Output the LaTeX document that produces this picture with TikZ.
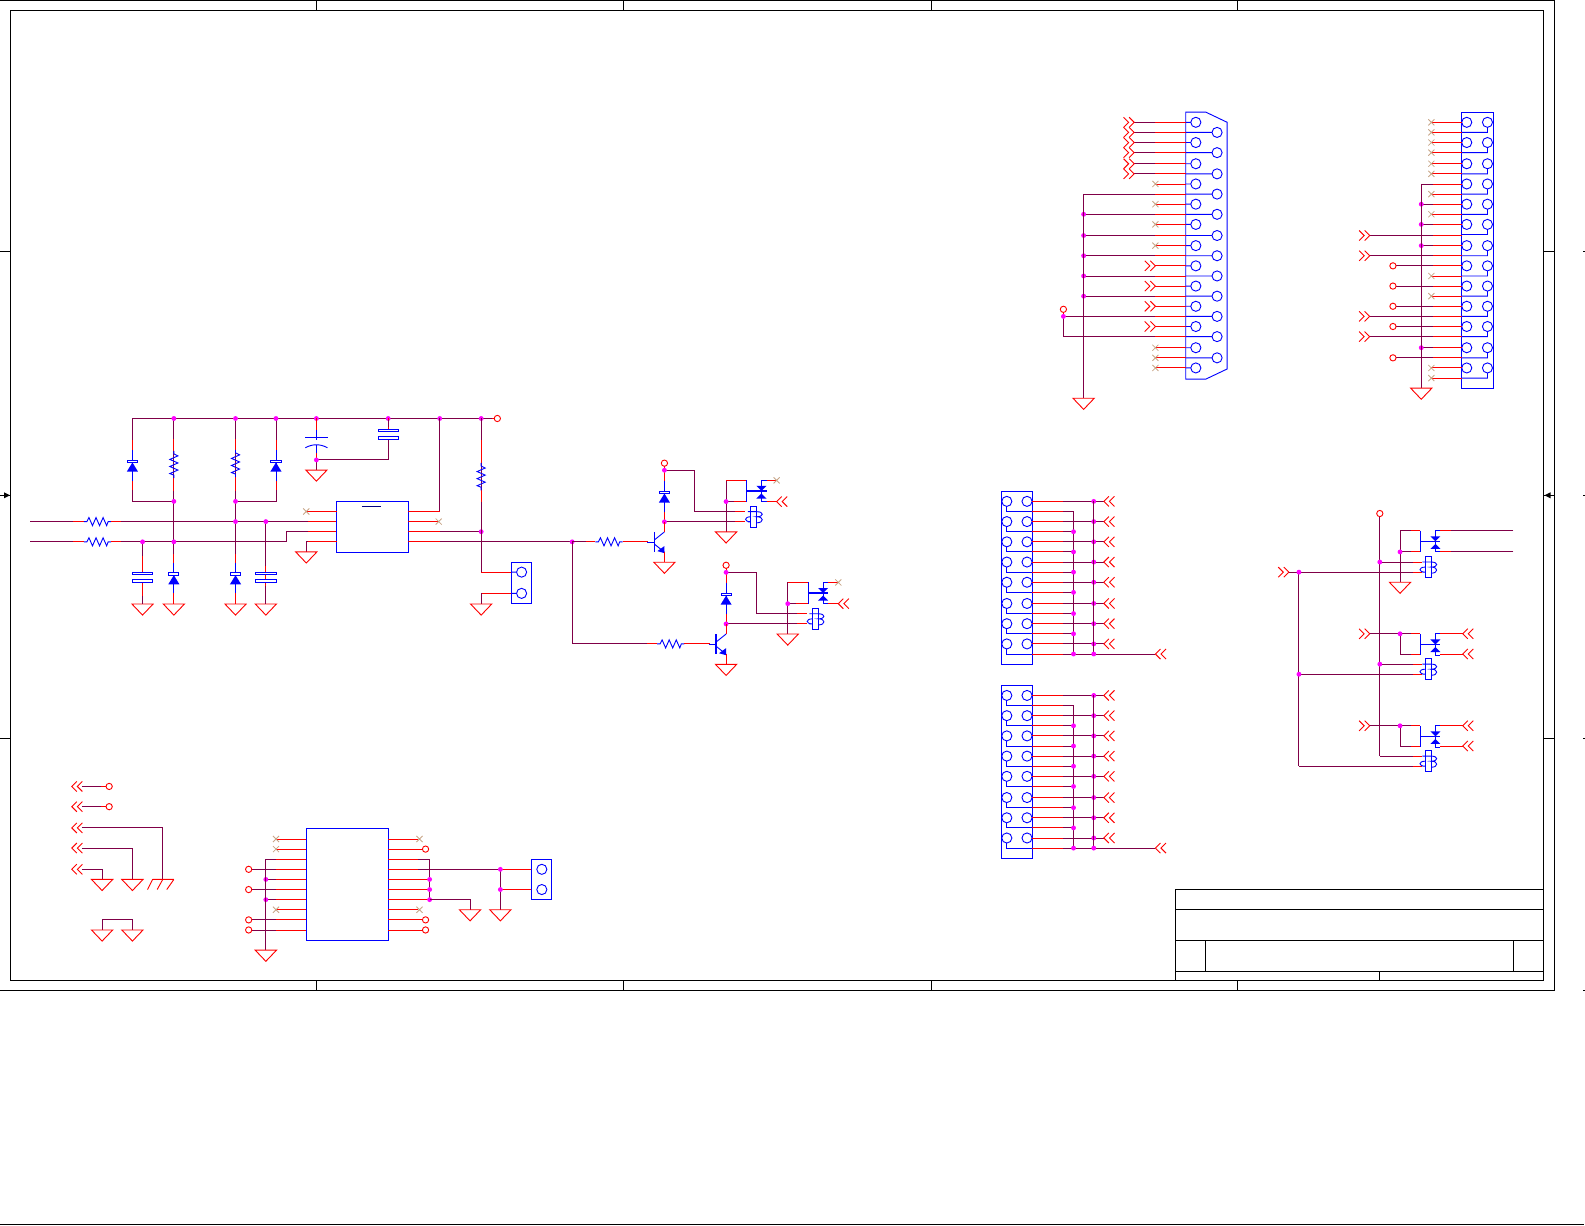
\documentclass[tikz,border=0pt]{standalone}
\usepackage{tikz}
\definecolor{wirec}{RGB}{128,0,72}
\definecolor{ncc}{RGB}{200,165,135}
\definecolor{bodyb}{RGB}{0,0,255}
\definecolor{jnc}{RGB}{255,0,255}
\tikzset{
 wirel/.style={draw=wirec,line width=0.9pt,line join=miter},
 redl/.style={draw=red,line width=0.9pt,line join=miter},
 bluel/.style={draw=bodyb,line width=0.9pt,line join=miter},
 blackl/.style={draw=black,line width=0.9pt},
 ncl/.style={draw=ncc,line width=0.8pt}
}
\newcommand\Jn[2]{\fill[jnc] (#1,#2) circle (2.4pt);}
\newcommand\Gnd[2]{\draw[redl] ({#1-10.5},#2)--({#1+10.5},#2)--(#1,{#2+11})--cycle;}
\newcommand\PortR[2]{\draw[redl] ({#1-5},{#2-5})--(#1,#2)--({#1-5},{#2+5}) ({#1-10.5},{#2-5})--({#1-5.5},#2)--({#1-10.5},{#2+5});}
\newcommand\PortL[2]{\draw[redl] ({#1+5},{#2-5})--(#1,#2)--({#1+5},{#2+5}) ({#1+10.5},{#2-5})--({#1+5.5},#2)--({#1+10.5},{#2+5});}
\newcommand\Pc[2]{\draw[redl] (#1,#2) circle (3.1pt);}
\newcommand\Nc[2]{\draw[ncl] ({#1-3},{#2-3})--({#1+3},{#2+3}) ({#1-3},{#2+3})--({#1+3},{#2-3});}
% purple from x1 to xm, red from xm to x2, at y
\newcommand\Hp[4]{\draw[wirel] (#1,#4)--(#2,#4); \draw[redl] (#2,#4)--(#3,#4);}
\newcommand\Hr[3]{\draw[redl] (#1,#3)--(#2,#3);}
\newcommand\Zig{(0,0)--(3,0)--(5,-4)--(8.5,4)--(12,-4)--(15.5,4)--(19,-4)--(22.5,4)--(24,0)--(27,0)}
\newcommand\ResH[2]{\begin{scope}[shift={(#1,#2)}]\draw[bluel] \Zig;\end{scope}}
\newcommand\ResV[2]{\begin{scope}[shift={(#1,#2)},rotate=-90]\draw[bluel] \Zig;\end{scope}}
% diode: x, bar y
\newcommand\Dio[2]{\draw[bluel] (#1,{#2-11})--(#1,{#2+19});
 \draw[bluel,fill=white] ({#1-5},{#2-1.3}) rectangle ({#1+5},{#2+1.3});
 \fill[bodyb] ({#1-5.5},{#2+10})--({#1+5.5},{#2+10})--(#1,{#2+1})--cycle;}
\newcommand\Cap[2]{\draw[bluel,fill=white] ({#1-10},{#2-5}) rectangle ({#1+10},{#2-2.3});
 \draw[bluel,fill=white] ({#1-10},{#2+5}) rectangle ({#1+10},{#2+2.3});}
\newcommand\Npn[2]{\draw[bluel] ({#1-17},#2)--({#1-10},#2);
 \draw[bluel,line width=1.4pt] ({#1-10},{#2-10})--({#1-10},{#2+10});
 \draw[bluel] ({#1-10},{#2-2})--(#1,{#2-10}) ({#1-10},{#2+2})--(#1,{#2+10});
 \fill[bodyb] (#1,{#2+11})--(#1,{#2+4})--({#1-7},{#2+9})--cycle;}
\newcommand\Coil[2]{\draw[bluel] ({#1-3},{#2-10.5}) rectangle ({#1+3},{#2+10.5});
 \draw[bluel] ({#1-6},{#2-5})--({#1+3},{#2-5}) .. controls ({#1+10},{#2-5}) and ({#1+10},#2) .. ({#1+3},#2)
  .. controls ({#1+10},#2) and ({#1+10},{#2+6}) .. ({#1+3},{#2+6});
 \draw[bluel] ({#1-3},#2) .. controls ({#1-10},#2) and ({#1-10},{#2+5}) .. ({#1-3},{#2+5})--({#1-6},{#2+5});}
% switch: x of bar, top y (pitch 21)
\newcommand\Sw[2]{\draw[bluel] (#1,#2)--(#1,{#2+21});
 \draw[bluel,line width=1.4pt] (#1,{#2+10.5})--({#1+20},{#2+10.5});
 \draw[bluel] ({#1+20},#2)--({#1+15},#2)--({#1+15},{#2+21})--({#1+20},{#2+21});
 \fill[bodyb] ({#1+10},{#2+5.5})--({#1+20},{#2+5.5})--({#1+15},{#2+10.5})--cycle;
 \fill[bodyb] ({#1+10},{#2+18})--({#1+20},{#2+18})--({#1+15},{#2+13})--cycle;}
\newcommand\RelayBlock[2]{\begin{scope}[shift={(#1,#2)}]
 \Pc{658}{458}\draw[redl] (658,461)--(658,465);
 \draw[wirel] (658,465)--(688,465)--(688,506)--(728,506); \Hr{728}{738}{506}
 \draw[redl] (658,465)--(658,477) (658,505)--(658,526);
 \Dio{658}{487}
 \Hp{658}{728}{738}{516}
 \Jn{658}{465}\Jn{658}{516}
 \Coil{746.5}{511}
 \draw[wirel] (719,526)--(719,475)--(725,475); \Hr{719}{739}{475}
 \Hp{719}{727}{739}{496}
 \Jn{719}{496}
 \Sw{739}{475}
 \Hr{759}{769}{475}\Nc{769}{475}
 \Hr{759}{769}{496}\PortL{769}{496}
 \Gnd{719}{526}
 \Npn{658}{536}
 \draw[redl] (658,526)--(658,516) (658,546)--(658,556);
 \Gnd{658}{556}
 \end{scope}}
\newcommand\Conn[1]{\begin{scope}[shift={(0,#1)}]
 \draw[bluel] (991,486) rectangle (1021,657);
 \foreach \y in {496,516,536,556,576,597,617,637}{
  \draw[bluel] (996,\y) circle (5pt) (1016,\y) circle (5pt);
  \draw[bluel] (996,\y+5)--(996,\y+10)--(1021,\y+10);
  \Hp{1082}{1052}{1021}{\y}\draw[wirel] (1052,\y)--(1092,\y);
  \Jn{1082}{\y}\PortL{1092}{\y}
 }
 \foreach \y in {506,526,546,566,586,607,627,647}{\Hp{1062}{1052}{1021}{\y}}
 \draw[wirel] (1062,506)--(1062,647) (1082,496)--(1082,647) (1052,647)--(1143,647);
 \foreach \y in {526,546,566,586,607,627,647}{\Jn{1062}{\y}}
 \Jn{1082}{647}\PortL{1143}{647}
 \end{scope}}
\begin{document}
\begin{tikzpicture}[x=1pt,y=-1pt]
\useasboundingbox (0,0) rectangle (1568,1212);
%% sheet frame
\draw[blackl] (0,0.7)--(1538,0.7)--(1538,980)--(0,980);
\draw[blackl] (10,10) rectangle (1527,970);
\draw[blackl] (0,1211)--(1567,1211);
\foreach \x in {313,617,921,1224}{\draw[blackl] (\x,0)--(\x,10) (\x,970)--(\x,980);}
\foreach \y in {249,731}{\draw[blackl] (0,\y)--(10,\y) (1527,\y)--(1538,\y);}
\draw[blackl] (0,490)--(10,490) (1527,490)--(1538,490);
\fill[black] (10,490)--(4,487)--(4,493)--cycle;
\fill[black] (1528,490)--(1534,487)--(1534,493)--cycle;
\foreach \y in {249,490,731,980}{\fill[black] (1566,\y-0.5) rectangle (1568,\y+0.5);}
%% title block
\draw[blackl] (1163,970)--(1163,880)--(1527,880) (1163,900)--(1527,900) (1163,930)--(1527,930) (1163,961)--(1527,961);
\draw[blackl] (1193,930)--(1193,961) (1497,930)--(1497,961) (1365,961)--(1365,970);
%% input stage
\Hp{30}{72}{83}{516}\ResH{83}{516}\draw[wirel] (110,516)--(305,516);\draw[redl] (110,516)--(120,516) (305,516)--(333,516);
\Hp{30}{72}{83}{536}\ResH{83}{536}\draw[wirel] (110,536)--(283,536)--(283,526)--(305,526);\draw[redl] (110,536)--(120,536) (305,526)--(333,526);
\draw[wirel] (131,414)--(487,414);\draw[redl] (487,414)--(489,414);\Pc{492}{414}
% left diode
\draw[wirel] (131,414)--(131,496)--(172,496);\draw[redl] (131,435)--(131,446) (131,474)--(131,485);\Dio{131}{456.5}
% R
\draw[wirel] (172,414)--(172,536);\draw[redl] (172,434)--(172,446) (172,473)--(172,486);\ResV{172}{446}
\draw[redl] (172,536)--(172,558) (172,578)--(172,597.5);\Dio{172}{568}\Gnd{172}{597.5}
\draw[wirel] (172,536)--(172,548);
% R2
\draw[wirel] (233,414)--(233,536);\draw[redl] (233,434)--(233,445) (233,472)--(233,486);\ResV{233}{445}
\draw[redl] (233,536)--(233,558) (233,578)--(233,597.5);\draw[wirel] (233,530)--(233,548);\Dio{233}{568}\Gnd{233}{597.5}
% right diode
\draw[wirel] (273,414)--(273,496)--(233,496);\draw[redl] (273,435)--(273,446) (273,474)--(273,485);\Dio{273}{456.5}
% caps
\draw[redl] (263,545)--(263,597.5);\Cap{263}{571}\Gnd{263}{597.5}
\draw[redl] (141,550)--(141,566) (141,576)--(141,590);\Cap{141}{571}\Gnd{141}{597.5}
\draw[wirel] (263,516)--(263,560) (263,580)--(263,597.5);
\draw[wirel] (141,536)--(141,550) (141,590)--(141,597.5);
\foreach \a/\b in {172/414,233/414,273/414,313/414,384/414,435/414,476/414,172/496,233/496,233/516,263/516,141/536,172/536}{\Jn{\a}{\b}}
% input caps to rail
\draw[redl] (313,414)--(313,425) (313,447)--(313,455);\draw[bluel] (313,425)--(313,435) (302,433)--(324,433);
\draw[bluel] (302,443) .. controls (309,439) and (317,439) .. (324,443);\draw[bluel] (313,440)--(313,448);
\draw[wirel] (313,455)--(313,465) (313,455)--(384,455)--(384,433);\Jn{313}{455}\Gnd{313}{465}
\draw[redl] (384,414)--(384,424);\Cap{384}{429.5}\draw[wirel] (384,415)--(384,422);
%% IC 1
\draw[bluel] (333,496) rectangle (404,546.5);
\draw[draw=blue!50!black,line width=0.9pt] (358,501.5)--(377,501.5);
\Hr{333}{303}{506}\Nc{303}{506}
\draw[wirel] (303,546)--(303,536)--(312,536);\Hr{305}{333}{536}\Gnd{303}{546}
\draw[wirel] (435,506)--(435,414);\draw[redl] (404,506)--(435,506);
\Hr{404}{434}{516}\Nc{434}{516}
\Hp{476}{435}{404}{526}\Jn{476}{526}
\Hp{566}{435}{404}{536}
% R3 + jumper
\draw[wirel] (476,414)--(476,566);\draw[redl] (476,435)--(476,458) (476,485)--(476,497);\draw[wirel] (476,414)--(476,435);\ResV{476}{458}
\Hr{476}{506}{566}\draw[redl] (506,587)--(476,587);\draw[wirel] (476,587)--(476,597.5);\Gnd{476}{597.5}
\draw[bluel] (506,556) rectangle (526,597);\draw[bluel] (516,566) circle (5pt) (516,587) circle (5pt) (506,566)--(511,566) (506,587)--(511,587);
%% drivers
\Jn{566}{536}
\draw[wirel] (566,536)--(589,536);\Hr{580}{589}{536}
\ResH{589}{536}\Hr{616}{641}{536}
\RelayBlock{-0.7}{0.2}
\draw[wirel] (566,536)--(566,637)--(641,637);\Hr{640}{650}{637}\ResH{650}{637}\Hr{677}{702}{637}
\RelayBlock{60.3}{101.2}
%% DB25
\draw[bluel] (1173,111)--(1193,111)--(1214,121)--(1214,365)--(1193,375)--(1173,375)--cycle;
\foreach \y in {121,141,162,182,202,222,243,263,283,303,323,344,364}{\draw[bluel] (1183,\y) circle (5pt) (1173,\y)--(1178,\y);}
\foreach \y in {131,151,172,192,212,233,253,273,293,313,333,354}{\draw[bluel] (1204,\y) circle (5pt) (1173,\y)--(1199,\y);}
\foreach \y in {121,131,141,151,162,172}{\Hp{1122}{1143}{1173}{\y}\PortR{1122}{\y}}
\foreach \y in {182,202,222,243,344,354,364}{\Hr{1143}{1173}{\y}\Nc{1143}{\y}}
\foreach \y in {192,212,233,253,273,293}{\Hp{1072}{1143}{1173}{\y}}
\foreach \y in {212,233,253,273,293}{\Jn{1072}{\y}}
\foreach \y in {263,283,303,323}{\Hr{1143}{1173}{\y}\PortR{1143}{\y}}
\draw[wirel] (1072,192)--(1072,394);\Gnd{1072}{394}
\Pc{1052}{306}\draw[redl] (1052,309)--(1052,313);
\draw[wirel] (1052,313)--(1143,313) (1052,313)--(1052,333)--(1143,333);\Hr{1143}{1173}{313}\Hr{1143}{1173}{333}\Jn{1052}{313}
%% double header top right
\draw[bluel] (1446,111) rectangle (1477,384);
\foreach \y in {121,141,162,182,202,222,243,263,283,303,323,344,364}{
 \draw[bluel] (1451,\y) circle (5pt) (1471.5,\y) circle (5pt) (1471.5,\y+5)--(1471.5,\y+10)--(1446,\y+10);}
\foreach \y in {121,131,141,151,162,172,192,212,273,293,364,374}{\Hr{1416}{1446}{\y}\Nc{1416}{\y}}
\foreach \y in {182,202,222,243,344}{\Hp{1406}{1418}{1446}{\y}}
\foreach \y in {202,222,243,344}{\Jn{1406}{\y}}
\foreach \y in {233,253,313,333}{\Hp{1355}{1418}{1446}{\y}\PortR{1355}{\y}}
\foreach \y in {263,283,303,323,354}{\Hp{1381}{1418}{1446}{\y}\Pc{1378}{\y}}
\draw[wirel] (1406,182)--(1406,384);\Gnd{1406}{384}
%% headers
\Conn{0}
\Conn{192}
%% relays right
\Pc{1365}{508}\draw[wirel] (1365,511)--(1365,748);
\foreach \y in {556,657,748}{\Hp{1365}{1398}{1407}{\y}}
\foreach \y in {566,667,758}{\Hp{1285}{1398}{1407}{\y}}
\draw[wirel] (1285,566)--(1285,758);\PortR{1275}{566}\draw[wirel] (1275,566)--(1285,566);
\foreach \a/\b in {1365/556,1285/566,1365/657,1285/667}{\Jn{\a}{\b}}
\foreach \y in {561,662,753}{\Coil{1413}{\y}}
% contact 1
\draw[wirel] (1385,576)--(1385,525)--(1396,525);\Hr{1396}{1405}{525}\Hp{1385}{1396}{1405}{546}\Jn{1385}{546}\Gnd{1385}{576}
\Sw{1405}{525}
\Hp{1497}{1435}{1425}{525}\Hp{1497}{1435}{1425}{546}
% contact 2, 3
\foreach \t/\b in {627/647,718/738}{
 \PortR{1355}{\t}
 \draw[wirel] (1355,\t)--(1396,\t);\Hr{1396}{1405}{\t}
 \draw[wirel] (1385,\t)--(1385,\b)--(1396,\b);\Hr{1396}{1405}{\b}
 \Jn{1385}{\t}
 \Sw{1405}{\t}
 \Hr{1425}{1447}{\t}\Hr{1425}{1447}{\b}
 \PortL{1447}{\t}\PortL{1447}{\b}
}
%% bottom left
\foreach \y in {778,798}{\PortL{71}{\y}\Hp{81}{100}{105}{\y}\Pc{108}{\y}}
\PortL{71}{819}\PortL{71}{839}\PortL{71}{860}
\draw[wirel] (81,819)--(161,819)--(161,870);
\draw[wirel] (81,839)--(131,839)--(131,870);\Gnd{131}{870}
\draw[wirel] (81,860)--(101,860)--(101,870);\Gnd{101}{870}
\draw[redl] (151,870)--(172,870) (151,870)--(146,880) (161,870)--(155.5,880) (172,870)--(165,880);
\draw[wirel] (101,920)--(101,910)--(131,910)--(131,920);\Gnd{101}{920}\Gnd{131}{920}
%% IC 2
\draw[bluel] (303,820) rectangle (384,930);
\foreach \y in {830,840,900}{\Hr{273}{303}{\y}\Nc{273}{\y}}
\foreach \y in {850,870,890}{\Hp{263}{273}{303}{\y}}
\foreach \y in {860,880,910,920}{\Hp{249}{273}{303}{\y}\Pc{246}{\y}}
\foreach \y in {870,890}{\Jn{263}{\y}}
\draw[wirel] (263,850)--(263,940);\Gnd{263}{940}
\foreach \y in {830,900}{\Hr{384}{414}{\y}\Nc{415}{\y}}
\foreach \y in {840,910,920}{\Hr{384}{418}{\y}\Pc{421}{\y}}
\foreach \y in {850,870,880,890}{\Hr{384}{425}{\y}}
\draw[wirel] (414,850)--(425,850)--(425,890);
\foreach \y in {870,880,890}{\Jn{425}{\y}}
\draw[wirel] (425,890)--(465,890)--(465,900);\Gnd{465}{900}
\draw[wirel] (414,860)--(495,860);\draw[redl] (384,860)--(414,860) (495,860)--(526,860);
\draw[wirel] (495,860)--(495,900);\Gnd{495}{900}\Hr{495}{526}{880}\Jn{495}{860}\Jn{495}{880}
\draw[bluel] (526,850) rectangle (546,890);\draw[bluel] (536,860) circle (5pt) (536,880) circle (5pt);
\end{tikzpicture}
\end{document}
